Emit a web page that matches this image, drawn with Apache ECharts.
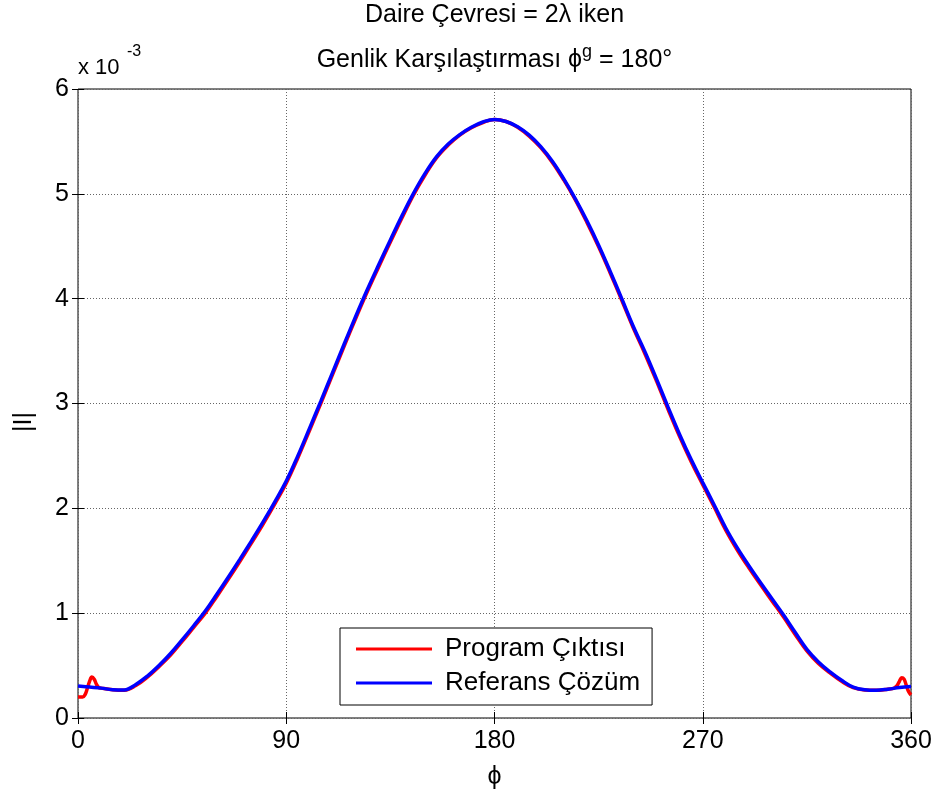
<!DOCTYPE html>
<html>
<head>
<meta charset="utf-8">
<script src="https://cdn.jsdelivr.net/npm/echarts@6/dist/echarts.min.js"></script>
<style>html,body{margin:0;padding:0;background:#fff}#c{width:936px;height:793px}</style>
</head>
<body>
<div id="c"></div>
<script>
// Values (|I| in units of 1e-3)
const xTicks = [0, 90, 180, 270, 360];
const yTicks = [0, 1, 2, 3, 4, 5, 6];

const phiRef = [0,5,10,15,20,25,30,35,40,45,50,55,60,65,70,75,80,85,90,95,100,105,110,115,120,125,130,135,140,145,150,155,160,165,170,175,180,185,190,195,200,205,210,215,220,225,230,235,240,245,250,255,260,265,270,275,280,285,290,295,300,305,310,315,320,325,330,335,340,345,350,355,360];
const refValues = [0.305,0.295,0.285,0.27,0.268,0.32,0.40,0.50,0.615,0.745,0.88,1.02,1.18,1.345,1.515,1.69,1.87,2.06,2.26,2.50,2.76,3.025,3.295,3.565,3.83,4.085,4.325,4.56,4.79,5.005,5.195,5.355,5.475,5.565,5.635,5.685,5.71,
  5.69,5.64,5.56,5.45,5.31,5.14,4.95,4.74,4.51,4.26,4.00,3.735,3.495,3.235,2.965,2.705,2.465,2.245,2.03,1.81,1.62,1.45,1.29,1.135,0.98,0.815,0.655,0.535,0.44,0.36,0.295,0.27,0.265,0.275,0.29,0.30];

const phiProg = [0,1,2,3,4,5,6,7,8,9,10,15,20,25,30,35,40,45,50,55,60,65,70,75,80,85,90,95,100,105,110,115,120,125,130,135,140,145,150,155,160,165,170,175,180,185,190,195,200,205,210,215,220,225,230,235,240,245,250,255,260,265,270,275,280,285,290,295,300,305,310,315,320,325,330,335,340,345,350,352,353,354,355,356,357,358,359,360];
const progValues = [0.20,0.20,0.20,0.22,0.28,0.35,0.39,0.37,0.32,0.29,0.285,
  0.27,0.265,0.31,0.39,0.49,0.60,0.73,0.865,1.00,1.16,1.325,1.495,1.67,1.85,2.04,2.24,2.48,2.74,3.005,3.275,3.545,3.81,4.065,4.305,4.54,4.77,4.99,5.18,5.345,5.465,5.56,5.63,5.68,5.71,
  5.69,5.635,5.55,5.44,5.30,5.13,4.94,4.725,4.495,4.245,3.985,3.72,3.475,3.215,2.945,2.685,2.445,2.225,2.01,1.79,1.60,1.43,1.27,1.115,0.96,0.795,0.64,0.52,0.43,0.35,0.29,0.268,0.265,
  0.275,0.28,0.29,0.31,0.35,0.385,0.37,0.31,0.25,0.22];

const seriesNames = ['Program Çıktısı', 'Referans Çözüm'];

const FONT = '"Liberation Sans", Arial, Helvetica, sans-serif';
const zip = (xs, ys) => xs.map((x, i) => [x, ys[i]]);

const chart = echarts.init(document.getElementById('c'), null, {renderer: 'canvas'});
const G = {left: 78, right: 25, top: 89, bottom: 75};
const plotCx = G.left + (936 - G.left - G.right) / 2;

const option = {
  backgroundColor: '#fff',
  animation: false,
  grid: {left: G.left, right: G.right, top: G.top, bottom: G.bottom, show: true, borderColor: '#000', borderWidth: 1, backgroundColor: '#fff'},
  xAxis: [{
    type: 'value', min: xTicks[0], max: xTicks[xTicks.length - 1], interval: 90,
    axisLine: {show: false},
    axisTick: {show: true, inside: true, length: 6, lineStyle: {color: '#000'}},
    axisLabel: {color: '#000', fontSize: 25, fontFamily: FONT, margin: 11},
    splitLine: {show: true, lineStyle: {color: '#666', type: [1, 2], width: 1}}
  }, {
    type: 'value', position: 'top', min: 0, max: 360, interval: 90,
    axisLine: {show: false},
    axisTick: {show: true, inside: true, length: 6, lineStyle: {color: '#000'}},
    axisLabel: {show: false}, splitLine: {show: false}
  }],
  yAxis: [{
    type: 'value', min: yTicks[0], max: yTicks[yTicks.length - 1], interval: 1,
    axisLine: {show: false},
    axisTick: {show: true, inside: true, length: 6, lineStyle: {color: '#000'}},
    axisLabel: {color: '#000', fontSize: 25, fontFamily: FONT, margin: 9},
    splitLine: {show: true, lineStyle: {color: '#666', type: [1, 2], width: 1}}
  }, {
    type: 'value', position: 'right', min: 0, max: 6, interval: 1,
    axisLine: {show: false},
    axisTick: {show: true, inside: true, length: 6, lineStyle: {color: '#000'}},
    axisLabel: {show: false}, splitLine: {show: false}
  }],
  legend: {
    orient: 'vertical', left: 340, top: 628,
    backgroundColor: '#fff', borderColor: '#000', borderWidth: 1,
    padding: [8, 12, 9, 16], itemGap: 8,
    icon: 'rect', itemWidth: 76, itemHeight: 3,
    textStyle: {color: '#000', fontSize: 26, fontFamily: FONT, padding: [0, 0, 0, 8]},
    data: seriesNames
  },
  series: [{
    name: seriesNames[0], type: 'line', data: zip(phiProg, progValues),
    showSymbol: false, symbol: 'none', smooth: 0.4,
    lineStyle: {color: '#ff0000', width: 3.5}, itemStyle: {color: '#ff0000'}
  }, {
    name: seriesNames[1], type: 'line', data: zip(phiRef, refValues),
    showSymbol: false, symbol: 'none', smooth: 0.4,
    lineStyle: {color: '#0000ff', width: 3.5}, itemStyle: {color: '#0000ff'}
  }],
  graphic: [
    {type: 'text', x: plotCx, y: 3, style: {text: 'Daire Çevresi = 2λ iken', fill: '#000', font: '25px ' + FONT, textAlign: 'center', textVerticalAlign: 'top'}},
    {type: 'text', x: plotCx, y: 43, style: {
      text: 'Genlik Karşılaştırması ϕ{sup|g} = 180°',
      fill: '#000', font: '25px ' + FONT, textAlign: 'center', textVerticalAlign: 'top',
      rich: {sup: {fontSize: 18, fontFamily: FONT, padding: [0, 0, 16, 0]}}
    }},
    {type: 'text', x: 78, y: 57, style: {text: 'x 10', fill: '#000', font: '22px ' + FONT, textVerticalAlign: 'top'}},
    {type: 'text', x: 127, y: 44, style: {text: '-3', fill: '#000', font: '16px ' + FONT, textVerticalAlign: 'top'}},
    {type: 'text', x: 24, y: 422, rotation: Math.PI / 2, style: {text: '|I|', fill: '#000', font: '25px ' + FONT, textAlign: 'center', textVerticalAlign: 'middle'}},
    {type: 'text', x: plotCx, y: 765, style: {text: 'ϕ', fill: '#000', font: '25px ' + FONT, textAlign: 'center', textVerticalAlign: 'top'}}
  ]
};
chart.setOption(option);
</script>
</body>
</html>
